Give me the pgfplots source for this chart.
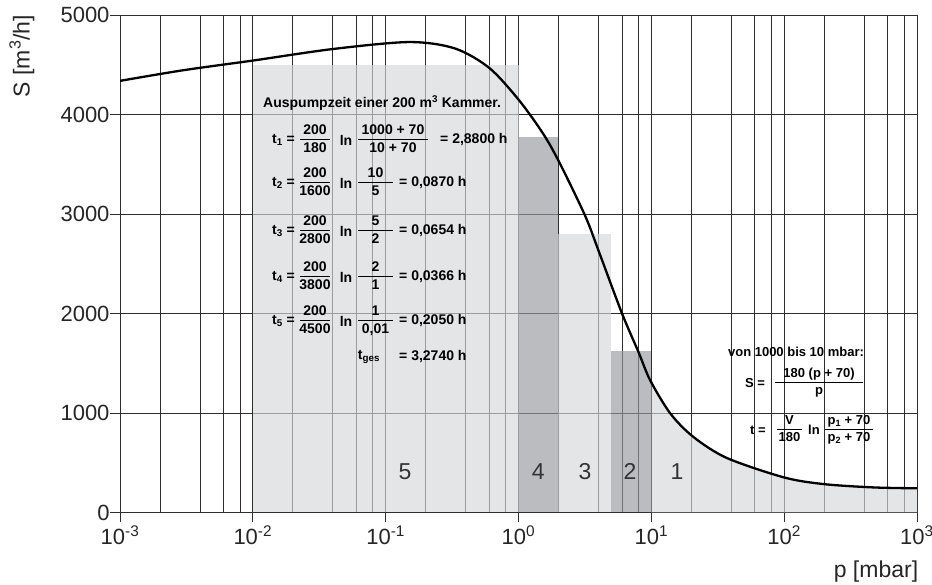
\documentclass[border=0pt]{standalone}
\usepackage{pgfplots}
\pgfplotsset{compat=1.18}
\usepgfplotslibrary{fillbetween}
\usepackage{fontspec}
\setmainfont{Liberation Sans}
\usepackage{array}

\definecolor{lightfill}{rgb}{0.837,0.843,0.855}
\definecolor{darkfill}{rgb}{0.589,0.595,0.620}
\definecolor{gridc}{rgb}{0.18,0.18,0.18}

\newcommand{\fr}[3]{{\setlength{\arrayrulewidth}{1pt}\renewcommand{\arraystretch}{1.0}\begin{tabular}{@{}c@{}}\makebox[#1]{#2}\\\hline\makebox[#1]{\rule{0pt}{12pt}#3}\end{tabular}}}
\newcommand{\fbf}{\fontsize{14}{16}\selectfont\bfseries}
\newcommand{\fbr}{\fontsize{13}{15}\selectfont\bfseries}

\newcommand{\trow}[7]{%
  \node[anchor=west,inner sep=0pt,font=\fbf] at (272,#1) {t\textsubscript{#2} =};
  \node[inner sep=0pt,font=\fbf] at (315,#1) {\fr{30pt}{#3}{#4}};
  \node[inner sep=0pt,font=\fbf] at (346,#1) {ln};
  \node[inner sep=0pt,font=\fbf] at (375.5,#1) {\fr{35pt}{#5}{#6}};
  \node[anchor=west,inner sep=0pt,font=\fbf] at (399,#1) {= #7};
}

\pgfplotstableread{
p S
0.001 4338
0.003 4445
0.01 4542
0.04 4658
0.15 4728
0.33 4665
0.6 4470
1.0 4150
1.54 3803
2.06 3502
3.17 2984
4.0 2633
6.0 2004
8.0 1613
9.8 1329
13.9 995
20.7 760
37 548
100 352
200 285
470 252
1000 243
}\curvedata

\begin{document}
\begin{tikzpicture}
\begin{axis}[
  scale only axis, width=797pt, height=497.5pt,
  xmode=log, xmin=1e-3, xmax=1e3, ymin=0, ymax=5000,
  xtick={1e-3,1e-2,1e-1,1,10,100,1000},
  xticklabels={10\textsuperscript{-3},10\textsuperscript{-2},10\textsuperscript{-1},10\textsuperscript{0},10\textsuperscript{1},10\textsuperscript{2},10\textsuperscript{3}},
  minor xtick={2e-3,4e-3,6e-3,8e-3,2e-2,4e-2,6e-2,8e-2,2e-1,4e-1,6e-1,8e-1,2,4,6,8,20,40,60,80,200,400,600,800},
  ytick={0,1000,2000,3000,4000,5000},
  yticklabels={0,1000,2000,3000,4000,5000},
  grid=both,
  major grid style={gridc, line width=0.8pt},
  minor grid style={gridc, line width=0.7pt},
  axis line style={gridc, line width=0.9pt},
  tick align=outside, major tick length=10pt, minor tick length=0pt,
  tick style={gridc, line width=0.9pt},
  xtick pos=bottom, ytick pos=left,
  ticklabel style={font=\fontsize{22}{24}\selectfont, text=black!85},
  yticklabel style={xshift=3pt},
  clip=true,
]
\coordinate (O) at (rel axis cs:0,0);
% bars
\addplot[draw=none, fill=lightfill, fill opacity=0.65] coordinates {(0.01,4500) (1,4500)} \closedcycle;
\addplot[draw=none, fill=darkfill, fill opacity=0.65] coordinates {(1,3770) (2,3770)} \closedcycle;
\addplot[draw=none, fill=lightfill, fill opacity=0.65] coordinates {(2,2800) (5,2800)} \closedcycle;
\addplot[draw=none, fill=darkfill, fill opacity=0.65] coordinates {(5,1620) (10,1620)} \closedcycle;
% curve path
\addplot[name path=curve, draw=none, smooth] table[x=p,y=S] {\curvedata};
\addplot[name path=base, draw=none] coordinates {(0.001,0) (1000,0)};
\addplot[lightfill, fill opacity=0.65] fill between[of=curve and base, soft clip={domain=10:1000}];
\addplot[black, line width=2.3pt, smooth] table[x=p,y=S] {\curvedata};
% region numbers
\node[font=\fontsize{23}{26}\selectfont, text=black!80] at (axis cs:0.14,410) {5};
\node[font=\fontsize{23}{26}\selectfont, text=black!80] at (axis cs:1.41,410) {4};
\node[font=\fontsize{23}{26}\selectfont, text=black!80] at (axis cs:3.17,410) {3};
\node[font=\fontsize{23}{26}\selectfont, text=black!80] at (axis cs:6.9,410) {2};
\node[font=\fontsize{23}{26}\selectfont, text=black!80] at (axis cs:15.6,410) {1};
\end{axis}
\begin{scope}[shift={(O)}]
\begin{scope}[xshift=-120pt, yshift=512.5pt, x=1pt, y=-1pt]
\node[rotate=90, font=\fontsize{23}{26}\selectfont, text=black!85] at (22,56) {S [m\textsuperscript{3}/h]};
\node[font=\fontsize{23}{26}\selectfont, text=black!85] at (876,572) {p [mbar]};
% left formula block
\node[anchor=west,inner sep=0pt,font=\fbf] at (263,103) {Auspumpzeit einer 200 m\textsuperscript{3} Kammer.};
\node[anchor=west,inner sep=0pt,font=\fbf] at (272,140) {t\textsubscript{1} =};
\node[inner sep=0pt,font=\fbf] at (315,140) {\fr{30pt}{200}{180}};
\node[inner sep=0pt,font=\fbf] at (346,140) {ln};
\node[inner sep=0pt,font=\fbf] at (393,140) {\fr{70pt}{1000 + 70}{10 + 70}};
\node[anchor=west,inner sep=0pt,font=\fbf] at (440,140) {= 2,8800 h};
\trow{183}{2}{200}{1600}{10}{5}{0,0870 h}
\trow{231}{3}{200}{2800}{5}{2}{0,0654 h}
\trow{277}{4}{200}{3800}{2}{1}{0,0366 h}
\trow{321}{5}{200}{4500}{1}{0,01}{0,2050 h}
\node[inner sep=0pt,font=\fbf] at (369,357) {t\textsubscript{ges}};
\node[anchor=west,inner sep=0pt,font=\fbf] at (399,357) {= 3,2740 h};
% right formula block
\node[inner sep=0pt,font=\fbr] at (796,352) {von 1000 bis 10 mbar:};
\node[anchor=west,inner sep=0pt,font=\fbr] at (745,383) {S =};
\node[inner sep=0pt,font=\fbr] at (819,383) {\fr{88pt}{180 (p + 70)}{p}};
\node[anchor=west,inner sep=0pt,font=\fbr] at (750,430) {t =};
\node[inner sep=0pt,font=\fbr] at (789.5,430) {\fr{25pt}{V}{180}};
\node[inner sep=0pt,font=\fbr] at (814,430) {ln};
\node[inner sep=0pt,font=\fbr] at (849,430) {\fr{48pt}{p\textsubscript{1} + 70}{p\textsubscript{2} + 70}};
\pgfresetboundingbox
\path (0,0) rectangle (932,585);
\end{scope}
\end{scope}
\end{tikzpicture}
\end{document}
